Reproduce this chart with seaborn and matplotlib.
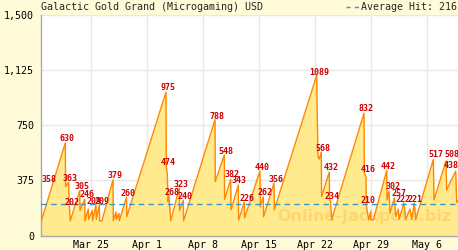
import numpy as np
import pandas as pd
import matplotlib
matplotlib.use("Agg")
import matplotlib.pyplot as plt
import matplotlib.dates as mdates
from matplotlib.ticker import FuncFormatter, FixedLocator
from matplotlib.lines import Line2D
import seaborn as sns

# ---- data (days since Mar 18, jackpot value in USD) ----
start_date = "2024-03-18"
days = [0.825, 0.863, 3.825, 3.863, 4.25, 4.288, 4.45, 5.625, 5.663, 6.25, 6.288,
        6.70, 6.738, 7.20, 7.238, 7.663, 7.70, 8.075, 8.113, 8.41, 9.79, 9.825,
        10.16, 10.20, 10.54, 10.575, 11.475, 11.51, 16.41, 16.45, 16.575, 16.66,
        16.79, 17.0, 18.075, 18.11, 18.575, 18.61, 22.54, 22.575, 23.70, 23.74,
        24.50, 24.54, 25.45, 25.49, 26.20, 26.24, 28.16, 28.20, 28.575, 28.61,
        29.91, 29.95, 35.25, 35.325, 35.41, 35.575, 35.825, 35.86, 36.825, 36.86,
        36.975, 37.11, 41.16, 41.20, 41.41, 41.45, 41.74, 41.975, 42.01, 42.325,
        44.0, 44.04, 44.29, 44.41, 44.95, 45.125, 45.45, 45.54, 46.16, 46.375,
        46.91, 47.125, 47.45, 47.625, 49.825, 49.91, 51.41, 51.49, 52.625, 52.74,
        52.91]
values = [230, 105, 629, 333, 363, 250, 100, 305, 170, 246, 100,
          180, 110, 170, 100, 209, 110, 209, 100, 100, 378, 100,
          160, 110, 150, 100, 260, 128, 975, 474, 420, 230,
          268, 100, 323, 170, 240, 100, 788, 367, 548, 247,
          382, 174, 343, 106, 226, 120, 440, 196, 262, 128,
          356, 174, 1089, 787, 537, 520, 568, 265, 432, 242,
          234, 106, 832, 424, 400, 210, 106, 160, 110, 106,
          442, 242, 302, 151, 257, 128, 180, 110, 222, 110,
          180, 110, 221, 110, 517, 242, 508, 310, 438, 225,
          240]

hit_labels = ["358", "630", "363", "305", "202", "246", "209", "209", "379", "260",
              "975", "474", "268", "323", "240", "788", "548", "382", "343", "226",
              "440", "262", "356", "1089", "568", "432", "234", "832", "416", "210",
              "442", "302", "257", "222", "221", "517", "508", "438"]
hit_days = [1.76, 4.06, 4.44, 5.91, 4.66, 6.56, 7.475, 8.475, 10.06, 11.64,
            16.64, 16.69, 17.14, 18.29, 18.73, 22.81, 23.94, 24.63, 25.60, 26.5,
            28.38, 28.79, 30.14, 35.51, 36.0, 37.01, 37.19, 41.39, 41.66, 41.66,
            44.16, 44.76, 45.54, 46.04, 47.54, 50.14, 52.1, 52.04]
hit_levels = [367, 640, 371, 315, 208, 260, 215, 215, 390, 269,
              987, 480, 276, 333, 247, 794, 556, 401, 356, 237,
              447, 276, 367, 1094, 578, 447, 247, 844, 431, 224,
              451, 315, 271, 231, 231, 531, 531, 458]

average_hit = 216
y_ticks = [0, 375, 750, 1125, 1500]
title_text = "Galactic Gold Grand (Microgaming) USD"
avg_text = "Average Hit: 216"
watermark = "Online-Jackpots.biz"
x_range_days = [0.79, 52.91]

# ---- build ----
base = pd.Timestamp(start_date)
df = pd.DataFrame({"date": base + pd.to_timedelta(days, unit="D"), "value": values})

sns.set_style("white")
plt.rcParams["font.family"] = ["DejaVu Sans Mono", "DejaVu Sans"]

BG = "#fffbd9"
FS = 7.2
fig = plt.figure(figsize=(4.58, 2.5), dpi=100, facecolor=BG)
ax = fig.add_axes([41 / 458, 14.5 / 250, 417 / 458, 220.5 / 250])
ax.set_facecolor("white")

ax.fill_between(df["date"], df["value"], 0, color="#ffea8e", lw=0, zorder=1)
sns.lineplot(data=df, x="date", y="value", ax=ax, color="#ff8800", lw=1.0,
             sort=False, estimator=None, zorder=3)
ax.axhline(average_hit, color="#3399cc", lw=1.0, ls=(0, (4, 3)), zorder=4)

for t, d, v in zip(hit_labels, hit_days, hit_levels):
    ax.text(base + pd.Timedelta(days=d), v, t, color="#cc0000", fontsize=6,
            fontweight="bold", ha="center", va="baseline", zorder=5, clip_on=False)

ax.text(0.983, 0.085, watermark, transform=ax.transAxes, ha="right", va="center",
        fontsize=11.5, fontweight="bold", family="DejaVu Sans",
        color="#f5a623", alpha=0.28, zorder=2)

ax.set_ylim(0, 1500)
ax.set_xlim(base + pd.Timedelta(days=x_range_days[0]), base + pd.Timedelta(days=x_range_days[1]))
ax.yaxis.set_major_locator(FixedLocator(y_ticks))
ax.yaxis.set_major_formatter(FuncFormatter(lambda v, p: f"{int(v):,}"))
ax.xaxis.set_major_locator(mdates.WeekdayLocator(byweekday=mdates.MO))
ax.xaxis.set_minor_locator(mdates.DayLocator())
ax.xaxis.set_major_formatter(FuncFormatter(lambda v, p: (lambda d: f"{d:%b} {d.day}")(mdates.num2date(v))))
ax.set_xlabel("")
ax.set_ylabel("")

ax.grid(True, which="major", color="#e8e8e8", lw=1.0, zorder=0)
ax.set_axisbelow(True)
for s in ["top", "right"]:
    ax.spines[s].set_visible(False)
for s in ["left", "bottom"]:
    ax.spines[s].set_color("#aaaaaa")
    ax.spines[s].set_linewidth(1.0)
ax.tick_params(axis="x", which="both", direction="in", length=2.5, color="#aaaaaa",
               labelsize=FS, pad=3.5, labelcolor="black")
ax.tick_params(axis="y", which="major", direction="out", length=3, color="#aaaaaa",
               labelsize=FS, pad=2, labelcolor="black")

fig.text(41 / 458, 1 - 7 / 250, title_text, fontsize=FS, ha="left", va="center")
fig.text(361 / 458, 1 - 7 / 250, avg_text, fontsize=FS, ha="left", va="center")
fig.add_artist(Line2D([346 / 458, 359 / 458], [1 - 7 / 250, 1 - 7 / 250],
                      transform=fig.transFigure, color="#3399cc", lw=1.0, ls=(0, (3, 3))))

fig.savefig("out.png", dpi=100, facecolor=BG)
